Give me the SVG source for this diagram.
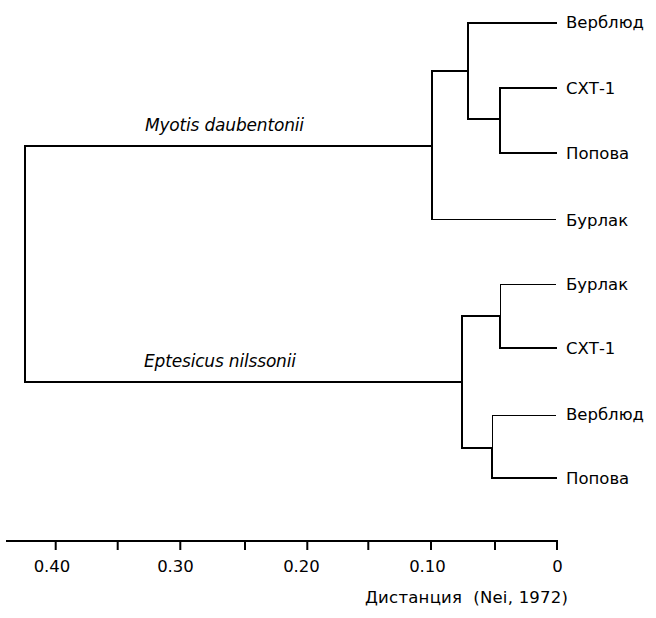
<svg xmlns="http://www.w3.org/2000/svg" width="656" height="618" viewBox="0 0 656 618">
<style>
  text { font-family: "DejaVu Sans", Verdana, sans-serif; font-size: 16.5px; fill: #000; }
  .it { font-style: italic; font-size: 17px; }
  .mid { text-anchor: middle; }
  .thick { stroke: #000; stroke-width: 2; fill: none; stroke-linecap: square; }
  .thin { stroke: #000; stroke-width: 1; fill: none; }
</style>
<rect width="656" height="618" fill="#fff"/>
<g id="connectors">
  <path class="thick" d="M25,146 V382"/>
  <path class="thick" d="M25,146 H432"/>
  <path class="thick" d="M25,382 H462"/>
  <path class="thick" d="M432,71 V219"/>
  <path class="thick" d="M432,71 H468"/>
  <path class="thin" d="M432,219.5 H556"/>
  <path class="thick" d="M468,23 V119"/>
  <path class="thick" d="M468,23 H556"/>
  <path class="thick" d="M468,119 H500"/>
  <path class="thick" d="M500,88 V153"/>
  <path class="thick" d="M500,88 H556"/>
  <path class="thick" d="M500,153 H556"/>
  <path class="thick" d="M462,316 V448"/>
  <path class="thick" d="M462,316 H500"/>
  <path class="thick" d="M462,448 H492"/>
  <path class="thin" d="M500.5,284 V316"/>
  <path class="thick" d="M500,316 V348"/>
  <path class="thin" d="M500,284.5 H556"/>
  <path class="thick" d="M500,348 H556"/>
  <path class="thin" d="M492.5,415 V448"/>
  <path class="thick" d="M492,448 V478"/>
  <path class="thin" d="M492,415.5 H556"/>
  <path class="thick" d="M492,478 H556"/>
</g>
<g id="leaf-verblyud-1"><text x="566" y="27.5">Верблюд</text></g>
<g id="leaf-sxt-1"><text x="566" y="94">СХТ-1</text></g>
<g id="leaf-popova-1"><text x="566" y="159">Попова</text></g>
<g id="leaf-burlak-1"><text x="566" y="226">Бурлак</text></g>
<g id="leaf-burlak-2"><text x="566" y="289.5">Бурлак</text></g>
<g id="leaf-sxt-2"><text x="566" y="354">СХТ-1</text></g>
<g id="leaf-verblyud-2"><text x="566" y="419.5">Верблюд</text></g>
<g id="leaf-popova-2"><text x="566" y="484">Попова</text></g>
<g id="clade-myotis"><text class="it" x="145" y="131" textLength="159">Myotis daubentonii</text></g>
<g id="clade-eptesicus"><text class="it" x="144" y="367" textLength="152">Eptesicus nilssonii</text></g>
<g id="axis">
  <path class="thick" style="stroke-linecap:butt" d="M6,541 H558"/>
  <path class="thick" style="stroke-linecap:butt" d="M55.7,541 V550 M117.7,541 V550 M180.3,541 V550 M245,541 V550 M307.3,541 V550 M368.3,541 V550 M431,541 V550 M495,541 V550 M557,540 V550"/>
  <text class="mid" x="52" y="572">0.40</text>
  <text class="mid" x="175.5" y="572">0.30</text>
  <text class="mid" x="301.5" y="572">0.20</text>
  <text class="mid" x="427.5" y="572">0.10</text>
  <text class="mid" x="557.5" y="572">0</text>
  <text x="365" y="603" font-size="17" textLength="203" xml:space="preserve">Дистанция  (Nei, 1972)</text>
</g>
</svg>
